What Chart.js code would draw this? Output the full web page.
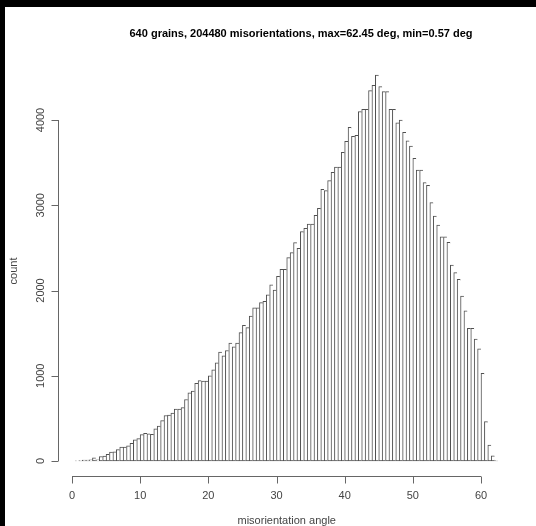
<!DOCTYPE html>
<html>
<head>
<meta charset="utf-8">
<script src="https://cdn.jsdelivr.net/npm/chart.js@4/dist/chart.umd.min.js"></script>
<style>
  html, body { margin: 0; padding: 0; background: #000; }
  body { width: 536px; height: 526px; overflow: hidden; position: relative; }
  #hist { position: absolute; left: 5px; top: 7px; background: #fff; }
</style>
</head>
<body>
<canvas id="hist" width="531" height="519"></canvas>
<script>
// histogram of misorientation angles, 0.5 deg bins starting at 0.5
const binWidth = 0.5;
const counts = [
    3, 6, 12, 12, 14, 36, 15, 53, 59, 78,
    106, 108, 133, 162, 164, 178, 207, 248, 262, 309,
    325, 320, 312, 377, 410, 473, 534, 538, 561, 610,
    610, 626, 721, 800, 821, 911, 942, 938, 938, 998,
    1070, 1151, 1278, 1235, 1296, 1382, 1340, 1384, 1505, 1592,
    1564, 1701, 1797, 1797, 1857, 1873, 1950, 2068, 2004, 2166,
    2248, 2248, 2385, 2444, 2561, 2495, 2690, 2729, 2780, 2780,
    2882, 2964, 3187, 3171, 3288, 3386, 3449, 3449, 3621, 3750,
    3914, 3808, 3820, 4098, 4125, 4125, 4344, 4407, 4528, 4391,
    4332, 4332, 4126, 4126, 3968, 4000, 3856, 3757, 3695, 3551,
    3413, 3413, 3265, 3234, 3030, 2874, 2768, 2631, 2631, 2565,
    2299, 2209, 2131, 1935, 1763, 1556, 1556, 1431, 1317, 1029,
    461, 188, 62, 5
];
const binLefts = counts.map((_, i) => 0.5 + i * binWidth);

const xTicks = [0, 10, 20, 30, 40, 50, 60];
const yTicks = [0, 1000, 2000, 3000, 4000];

const titleText = '640 grains, 204480 misorientations, max=62.45 deg, min=0.57 deg';
const xLabel = 'misorientation angle';
const yLabel = 'count';

const inkColor = '#444';
const font = 'Liberation Sans, Arial, Helvetica, sans-serif';

// R style detached axes, drawn from the chart's own scales
const rAxes = {
    id: 'rAxes',
    afterDraw(chart) {
        const { ctx, chartArea, scales: { x, y } } = chart;
        ctx.save();
        ctx.strokeStyle = '#666';
        ctx.fillStyle = inkColor;
        ctx.lineWidth = 1;

        // x axis
        const ax = Math.round(chartArea.bottom) + 0.5;
        ctx.beginPath();
        ctx.moveTo(x.getPixelForValue(xTicks[0]), ax);
        ctx.lineTo(x.getPixelForValue(xTicks[xTicks.length - 1]), ax);
        xTicks.forEach(t => {
            const px = Math.round(x.getPixelForValue(t)) + 0.5;
            ctx.moveTo(px, ax);
            ctx.lineTo(px, ax + 7);
        });
        ctx.stroke();

        ctx.font = '11px ' + font;
        ctx.textAlign = 'center';
        ctx.textBaseline = 'middle';
        xTicks.forEach(t => ctx.fillText(String(t), x.getPixelForValue(t), ax + 19));

        // y axis
        const ay = Math.round(chartArea.left) + 0.5;
        ctx.beginPath();
        ctx.moveTo(ay, y.getPixelForValue(yTicks[0]));
        ctx.lineTo(ay, y.getPixelForValue(yTicks[yTicks.length - 1]));
        yTicks.forEach(t => {
            const py = Math.round(y.getPixelForValue(t)) + 0.5;
            ctx.moveTo(ay, py);
            ctx.lineTo(ay - 7, py);
        });
        ctx.stroke();

        yTicks.forEach(t => {
            ctx.save();
            ctx.translate(ay - 18, y.getPixelForValue(t));
            ctx.rotate(-Math.PI / 2);
            ctx.fillText(String(t), 0, 0);
            ctx.restore();
        });

        // axis titles
        ctx.fillText(xLabel, (chartArea.left + chartArea.right) / 2, ax + 44);
        ctx.save();
        ctx.translate(9, 264);
        ctx.rotate(-Math.PI / 2);
        ctx.fillText(yLabel, 0, 0);
        ctx.restore();

        // main title
        ctx.fillStyle = '#000';
        ctx.font = 'bold 11px ' + font;
        ctx.fillText(titleText, 296, 27);
        ctx.restore();
    }
};

new Chart(document.getElementById('hist'), {
    type: 'bar',
    data: {
        datasets: [{
            data: binLefts.map((b, i) => ({ x: b + binWidth / 2, y: counts[i] })),
            backgroundColor: '#fff',
            borderColor: '#505050',
            borderWidth: { left: 1, top: 1, right: 0, bottom: 1 },
            borderSkipped: false,
            barPercentage: 1,
            categoryPercentage: 1
        }]
    },
    options: {
        responsive: false,
        animation: false,
        layout: { padding: { left: 53.37, right: 20.92, top: 51.62, bottom: 49.65 } },
        plugins: { legend: { display: false }, tooltip: { enabled: false }, title: { display: false } },
        scales: {
            x: { type: 'linear', min: -2, max: 65, offset: false, display: false },
            y: { type: 'linear', min: -180, max: 4720, display: false }
        }
    },
    plugins: [rAxes]
});
</script>
</body>
</html>
